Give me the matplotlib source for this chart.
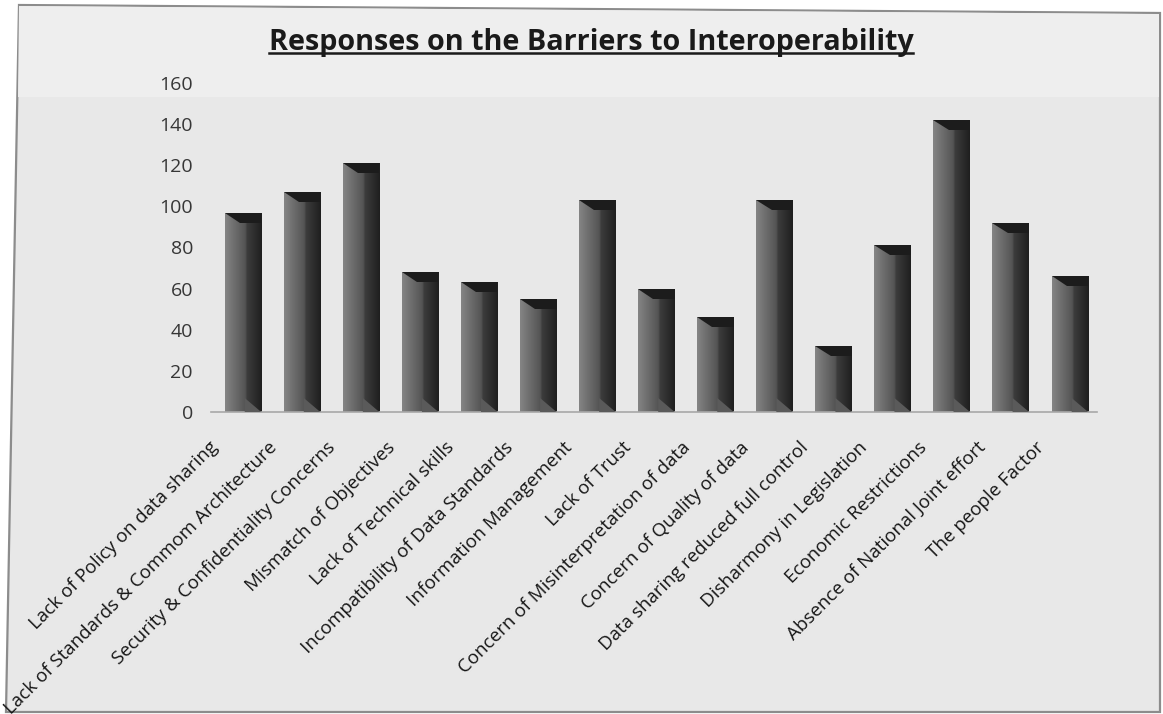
import numpy as np
import matplotlib
matplotlib.use("Agg")
import matplotlib.pyplot as plt
from matplotlib.colors import LinearSegmentedColormap
from matplotlib.patches import Polygon
from matplotlib.lines import Line2D
from matplotlib.transforms import ScaledTranslation

plt.rcParams['font.family'] = ['Open Sans', 'DejaVu Sans']

title = "Responses on the Barriers to Interoperability"
categories = [
    "Lack of Policy on data sharing",
    "Lack of Standards & Commom Architecture",
    "Security & Confidentiality Concerns",
    "Mismatch of Objectives",
    "Lack of Technical skills",
    "Incompatibility of Data Standards",
    "Information Management",
    "Lack of Trust",
    "Concern of Misinterpretation of data",
    "Concern of Quality of data",
    "Data sharing reduced full control",
    "Disharmony in Legislation",
    "Economic Restrictions",
    "Absence of National Joint effort",
    "The people Factor",
]
responses = [97, 107, 121, 68, 63, 55, 103, 60, 46, 103, 32, 81, 142, 92, 66]
y_ticks = [0, 20, 40, 60, 80, 100, 120, 140, 160]

W, H = 1163, 714
fig = plt.figure(figsize=(W / 100, H / 100), dpi=100, facecolor='white')

def fx(px):
    return px / W

def fy(py):
    return 1 - py / H

# chart frame (slightly skewed, as on the printed page)
frame_pts = [(fx(19), fy(5)), (fx(1160), fy(13)), (fx(1160), fy(712)), (fx(6), fy(712))]
fig.patches.append(Polygon(frame_pts, closed=True, transform=fig.transFigure,
                           facecolor='#e8e8e8', edgecolor='#8c8c8c', lw=1.6, zorder=-2))
fig.patches.append(Polygon([(fx(19), fy(6)), (fx(1159), fy(14)), (fx(1159), fy(97)), (fx(18), fy(97))],
                           closed=True, transform=fig.transFigure,
                           facecolor='#eeeeee', edgecolor='none', zorder=-1))

ax = fig.add_axes([fx(211), fy(412), fx(1097) - fx(211), fy(83) - fy(412)])
ax.set_zorder(1)
ax.set_facecolor('none')

x = np.arange(len(categories))
bars = ax.bar(x + 0.04, responses, width=0.62, color='#484848', edgecolor='none', zorder=2)

ax.set_xlim(-0.5, len(categories) - 0.5)
ax.set_ylim(0, 160)

face_cmap = LinearSegmentedColormap.from_list(
    'bar_face',
    [(0.0, '#858585'), (0.25, '#6e6e6e'), (0.55, '#545454'),
     (0.6, '#3c3c3c'), (1.0, '#1f1f1f')])
grad = np.linspace(0, 1, 256).reshape(1, -1)

units_per_px = 160 / ax.get_window_extent().height
d_top = 10 * units_per_px
d_bot = 14 * units_per_px

for b in bars:
    x0, w, h = b.get_x(), b.get_width(), b.get_height()
    x1 = x0 + w
    im = ax.imshow(grad, extent=[x0, x1, 0, h], aspect='auto', cmap=face_cmap,
                   interpolation='bilinear', zorder=2.5)
    im.set_clip_path(b)
    # bevelled top
    ax.add_patch(Polygon([(x0, h), (x1, h), (x1, h - d_top), (x0 + 0.42 * w, h - d_top)],
                         closed=True, facecolor='#1c1c1c', edgecolor='none', zorder=3))
    # bevelled foot
    ax.add_patch(Polygon([(x0 + 0.55 * w, d_bot), (x1, 0), (x0 + 0.55 * w, 0)],
                         closed=True, facecolor='#5a5a5a', edgecolor='none', zorder=3))

ax.set_xlim(-0.5, len(categories) - 0.5)
ax.set_ylim(0, 160)

for s in ['top', 'right', 'left']:
    ax.spines[s].set_visible(False)
ax.spines['bottom'].set_color('#a8a8a8')
ax.spines['bottom'].set_linewidth(1.2)

ax.set_yticks(y_ticks)
ax.set_yticklabels([str(v) for v in y_ticks])
ax.tick_params(axis='y', length=0, pad=13, labelsize=14, labelcolor='#363636')

ax.set_xticks(x)
ax.set_xticklabels(categories, rotation=45, ha='right', rotation_mode='anchor')
ax.tick_params(axis='x', length=0, pad=19, labelsize=13.5, labelcolor='#161616')
shift = ScaledTranslation(-0.32, 0, fig.dpi_scale_trans)
for lab in ax.get_xticklabels():
    lab.set_transform(lab.get_transform() + shift)

# title, sized to span its full width, with an underline
t = fig.text(fx(591), fy(50), title, ha='center', va='baseline',
             fontsize=15, fontweight='bold', color='#1a1a1a')
fig.canvas.draw()
bb = t.get_window_extent()
t.set_fontsize(15 * 648 / bb.width)
fig.canvas.draw()
bb = t.get_window_extent()
fig.lines.append(Line2D([fx(bb.x0), fx(bb.x1)], [fy(53), fy(53)], transform=fig.transFigure,
                        color='#1a1a1a', lw=1.8))

fig.savefig('out.png', dpi=100, facecolor=fig.get_facecolor())
